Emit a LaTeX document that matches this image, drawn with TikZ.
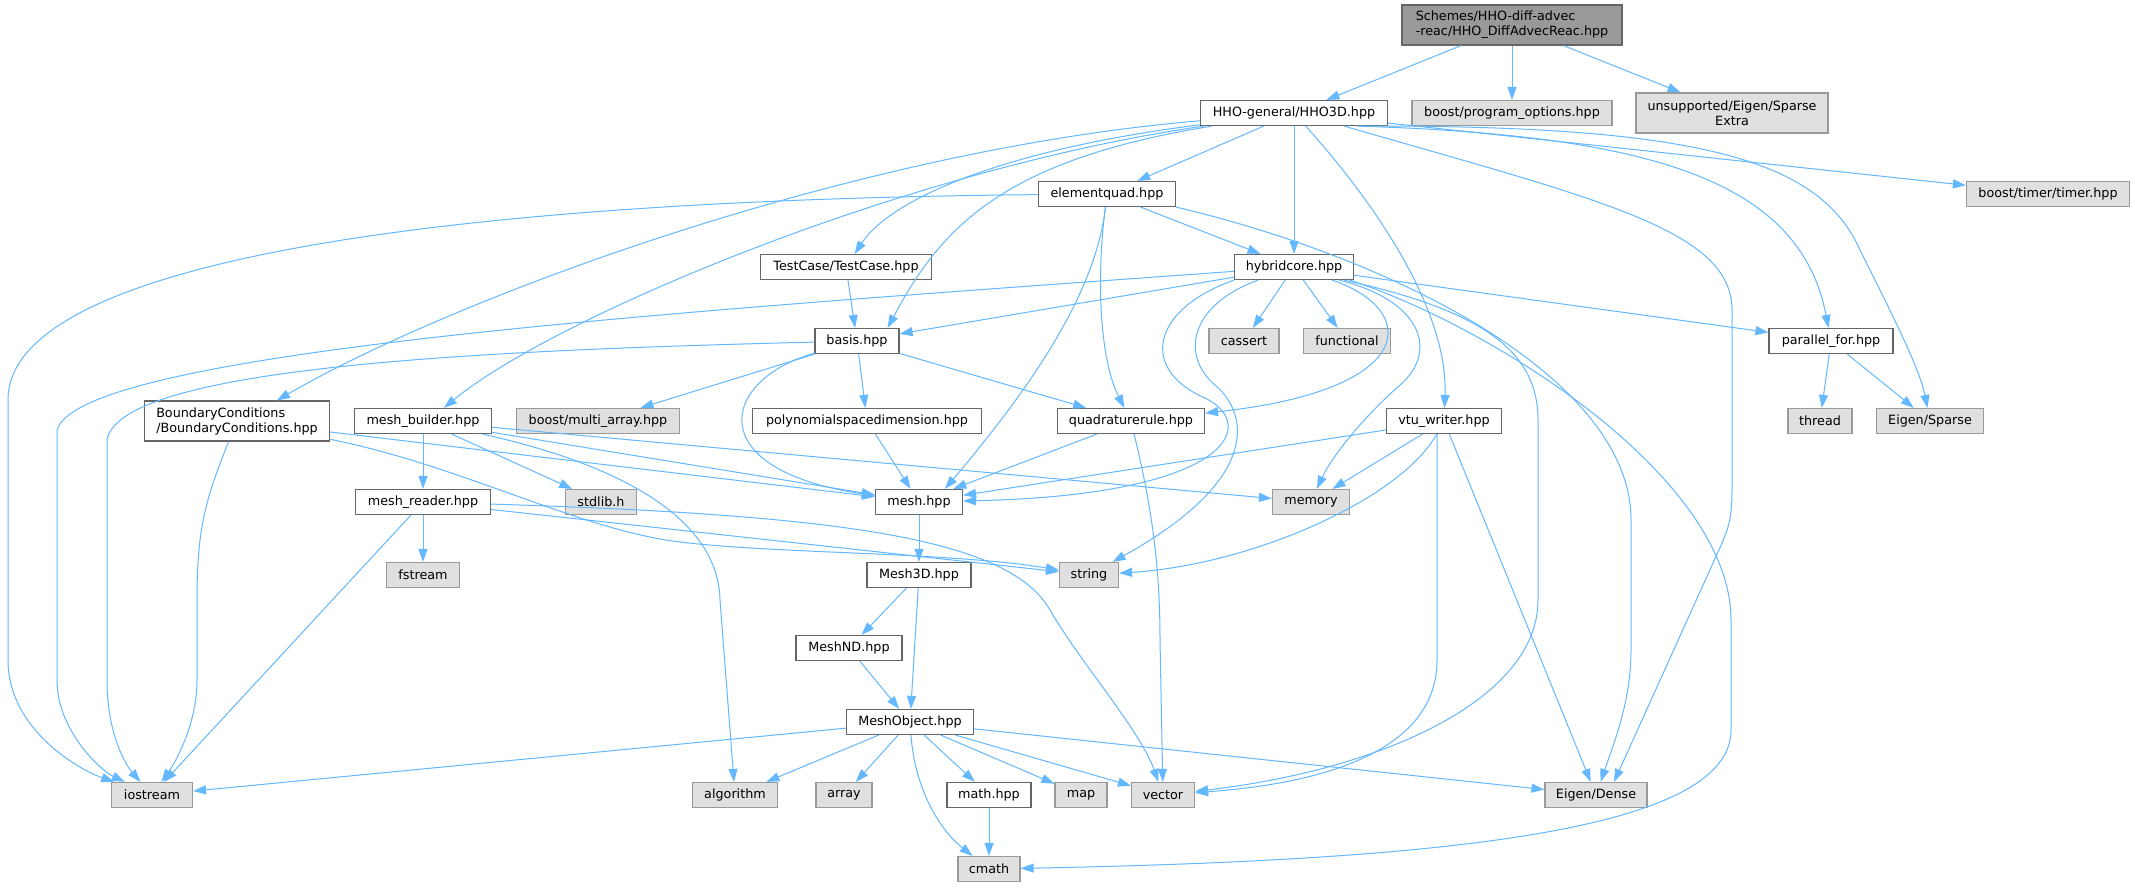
\documentclass[tikz,border=0pt]{standalone}
\usepackage{fontspec}
\setmainfont{DejaVu Sans}
\usetikzlibrary{arrows.meta}
\definecolor{edgec}{HTML}{63B8FF}
\definecolor{bordA}{HTML}{666666}
\definecolor{bordB}{HTML}{999999}
\definecolor{fillB}{HTML}{E0E0E0}
\definecolor{fillR}{HTML}{999999}
\newcommand\diagfont{\fontsize{12.75pt}{15pt}\selectfont}
\begin{document}
\begin{tikzpicture}[x=1pt,y=-1pt,
 nd/.style={draw=bordA, fill=white, line width=1.2pt, minimum height=25pt, inner xsep=2pt, inner ysep=0pt, font=\diagfont},
 sys/.style={nd, draw=bordB, fill=fillB},
 e/.style={draw=edgec, line width=1pt, -{Triangle[length=13pt,width=9pt]}}]
\fill[white] (0,0) rectangle (2135,887);
\useasboundingbox (0,0) rectangle (2135,887);

% nodes
\node[nd, minimum width=220pt, minimum height=40pt, fill=fillR, align=left] (root) at (1512,25) {Schemes/HHO-diff-advec\\{}-reac/HHO\_DiffAdvecReac.hpp};
\node[nd, minimum width=187pt] (hho3d) at (1294,113) {HHO-general/HHO3D.hpp};
\node[sys, minimum width=200pt] (progopt) at (1512,113) {boost/program\_options.hpp};
\node[sys, minimum width=192pt, minimum height=40pt, align=center] (sparseextra) at (1732,113) {unsupported/Eigen/Sparse\\Extra};
\node[nd, minimum width=137pt] (elementquad) at (1107,194) {elementquad.hpp};
\node[sys, minimum width=163pt] (timer) at (2048,194) {boost/timer/timer.hpp};
\node[nd, minimum width=119pt] (hybridcore) at (1294,267) {hybridcore.hpp};
\node[nd, minimum width=171pt] (testcase) at (846,267) {TestCase/TestCase.hpp};
\node[sys, minimum width=70pt] (cassert) at (1244,341) {cassert};
\node[sys, minimum width=87pt] (functional) at (1347,341) {functional};
\node[nd, minimum width=124pt] (parallelfor) at (1831,341) {parallel\_for.hpp};
\node[nd, minimum width=84pt] (basis) at (857,341) {basis.hpp};
\node[nd, minimum width=185pt, minimum height=40pt, align=left] (bc) at (237,421) {BoundaryConditions\\/BoundaryConditions.hpp};
\node[nd, minimum width=137pt] (meshbuilder) at (423,421) {mesh\_builder.hpp};
\node[sys, minimum width=163pt] (multiarray) at (598,421) {boost/multi\_array.hpp};
\node[nd, minimum width=229pt] (polyspace) at (867,421) {polynomialspacedimension.hpp};
\node[nd, minimum width=147pt] (quadrule) at (1131,421) {quadraturerule.hpp};
\node[nd, minimum width=115pt] (vtu) at (1444,421) {vtu\_writer.hpp};
\node[sys, minimum width=64pt] (thread) at (1820,421) {thread};
\node[sys, minimum width=107pt] (eigsparse) at (1930,421) {Eigen/Sparse};
\node[nd, minimum width=135pt] (meshreader) at (423,502) {mesh\_reader.hpp};
\node[sys, minimum width=71pt] (stdlib) at (601,502) {stdlib.h};
\node[nd, minimum width=87pt] (mesh) at (919,502) {mesh.hpp};
\node[sys, minimum width=77pt] (memory) at (1311,502) {memory};
\node[sys, minimum width=73pt] (fstream) at (423,575) {fstream};
\node[sys, minimum width=59pt] (string) at (1089,575) {string};
\node[nd, minimum width=104pt] (mesh3d) at (919,575) {Mesh3D.hpp};
\node[nd, minimum width=106pt] (meshnd) at (849,648) {MeshND.hpp};
\node[nd, minimum width=127pt] (meshobject) at (910,722) {MeshObject.hpp};
\node[sys, minimum width=81pt] (iostream) at (152,795) {iostream};
\node[sys, minimum width=85pt] (algorithm) at (735,795) {algorithm};
\node[sys, minimum width=56pt] (array) at (844,795) {array};
\node[nd, minimum width=84pt] (mathhpp) at (989,795) {math.hpp};
\node[sys, minimum width=52pt] (map) at (1081,795) {map};
\node[sys, minimum width=63pt] (vector) at (1163,795) {vector};
\node[sys, minimum width=102pt] (eigdense) at (1596,795) {Eigen/Dense};
\node[sys, minimum width=62pt] (cmath) at (989,869) {cmath};

% root
\draw[e] (root) -- (hho3d);
\draw[e] (root) -- (progopt);
\draw[e] (root) -- (sparseextra);

% HHO3D
\draw[e] (hho3d) -- (elementquad);
\draw[e] (hho3d) -- (hybridcore);
\draw[e] (hho3d) .. controls (1390,220) and (1448,320) .. (vtu);
\draw[e] (hho3d) -- (timer);
\draw[e] ([xshift=-31pt]hho3d.south east) .. controls (1650,135) and (1800,180) .. (parallelfor);
\draw[e] ([xshift=-28pt]hho3d.south east) .. controls (1700,125) and (1820,160) .. (1860,250) .. controls (1895,320) and (1920,370) .. (eigsparse);
\draw[e] ([xshift=-44pt]hho3d.south east) .. controls (1600,200) and (1732,230) .. (1732,310) -- (1732,490) .. controls (1732,520) and (1728,530) .. (1718,552) -- ([xshift=18pt]eigdense.north);
\draw[e] (hho3d) .. controls (1000,150) and (890,200) .. (testcase);
\draw[e] (hho3d) .. controls (1000,160) and (940,230) .. ([xshift=-12pt]basis.north east);
\draw[e] (hho3d) .. controls (850,150) and (450,300) .. ([xshift=40pt]bc.north);
\draw[e] (hho3d) .. controls (900,170) and (550,320) .. ([xshift=21pt]meshbuilder.north);

% elementquad
\draw[e] (elementquad) -- (hybridcore);
\draw[e] (elementquad) .. controls (1096,280) and (1100,360) .. (quadrule);
\draw[e] (elementquad) .. controls (1095,300) and (1020,400) .. ([xshift=26pt]mesh.north);
\draw[e] (elementquad) .. controls (450,200) and (8,260) .. (8,400) -- (8,660) .. controls (8,730) and (80,770) .. (iostream);
\draw[e] (elementquad.south east) .. controls (1400,260) and (1631,380) .. (1631,520) -- (1631,650) .. controls (1631,700) and (1615,740) .. (eigdense);

% hybridcore
\draw[e] (hybridcore) -- (basis);
\draw[e] (hybridcore) .. controls (700,310) and (80,350) .. (57,430) -- (57,680) .. controls (57,730) and (100,770) .. (iostream);
\draw[e] (hybridcore) -- (cassert);
\draw[e] (hybridcore) -- (functional);
\draw[e] (hybridcore) -- (parallelfor);
\draw[e] ([xshift=-22pt]hybridcore.south east) .. controls (1420,310) and (1420,390) .. (quadrule);
\draw[e] (hybridcore.south west) .. controls (1150,310) and (1140,370) .. (1205,398) .. controls (1260,425) and (1230,495) .. (mesh);
\draw[e] ([xshift=24pt]hybridcore.south west) .. controls (1190,305) and (1180,355) .. (1215,385) .. controls (1250,415) and (1260,480) .. (string);
\draw[e] ([xshift=-15pt]hybridcore.south east) .. controls (1420,300) and (1440,350) .. (1400,385) .. controls (1360,420) and (1330,460) .. (memory);
\draw[e] ([xshift=-10pt]hybridcore.south east) .. controls (1480,310) and (1538,350) .. (1538,420) -- (1538,600) .. controls (1538,700) and (1380,770) .. (vector);
\draw[e] ([xshift=-4pt]hybridcore.south east) .. controls (1500,330) and (1731,480) .. (1731,620) -- (1731,730) .. controls (1731,830) and (1450,860) .. (cmath);

% TestCase
\draw[e] (testcase) -- (basis);

% basis
\draw[e] (basis) -- (multiarray);
\draw[e] (basis) -- (polyspace);
\draw[e] (basis) -- (quadrule);
\draw[e] (basis) .. controls (720,380) and (700,470) .. (mesh);
\draw[e] (basis) .. controls (500,350) and (120,365) .. (107,440) -- (107,680) .. controls (107,740) and (130,770) .. (iostream);

% BoundaryConditions
\draw[e] (bc) -- (mesh);
\draw[e] (bc) .. controls (460,465) and (580,530) .. (680,542) .. controls (780,554) and (950,552) .. (string);
\draw[e] (bc) .. controls (205,500) and (197,530) .. (197,600) -- (197,680) .. controls (197,730) and (170,770) .. (iostream);

% mesh_builder
\draw[e] (meshbuilder) -- (meshreader);
\draw[e] (meshbuilder) -- (stdlib);
\draw[e] (meshbuilder) -- (mesh);
\draw[e] (meshbuilder) -- (memory);
\draw[e] (meshbuilder) .. controls (600,460) and (718,510) .. (720,600) -- (algorithm);

% mesh_reader
\draw[e] (meshreader) -- (fstream);
\draw[e] (meshreader) -- (iostream);
\draw[e] (meshreader) -- (string);
\draw[e] (meshreader) .. controls (850,515) and (1010,540) .. (1050,610) .. controls (1080,662) and (1140,730) .. (vector);

% polynomialspacedimension, quadraturerule
\draw[e] (polyspace) -- (mesh);
\draw[e] (quadrule) -- (mesh);
\draw[e] (quadrule) .. controls (1150,500) and (1160,560) .. (1160,640) -- (vector);

% vtu_writer
\draw[e] (vtu) -- (mesh);
\draw[e] (vtu) -- (memory);
\draw[e] (vtu) .. controls (1400,500) and (1250,565) .. (string);
\draw[e] ([xshift=-7pt]vtu.south) -- (1437,660) .. controls (1437,760) and (1300,785) .. (vector);
\draw[e] (vtu) -- (eigdense);

% mesh chain
\draw[e] (mesh) -- (mesh3d);
\draw[e] (mesh3d) -- (meshnd);
\draw[e] (mesh3d) -- (meshobject);
\draw[e] (meshnd) -- (meshobject);

% MeshObject
\draw[e] (meshobject) -- (iostream);
\draw[e] (meshobject) -- (algorithm);
\draw[e] (meshobject) -- (array);
\draw[e] (meshobject) .. controls (915,790) and (940,830) .. (cmath);
\draw[e] (meshobject) -- (mathhpp);
\draw[e] (meshobject) -- (map);
\draw[e] (meshobject) -- (vector);
\draw[e] (meshobject) -- (eigdense);
\draw[e] (mathhpp) -- (cmath);

% parallel_for
\draw[e] (parallelfor) -- (thread);
\draw[e] (parallelfor) -- (eigsparse);
\end{tikzpicture}
\end{document}
